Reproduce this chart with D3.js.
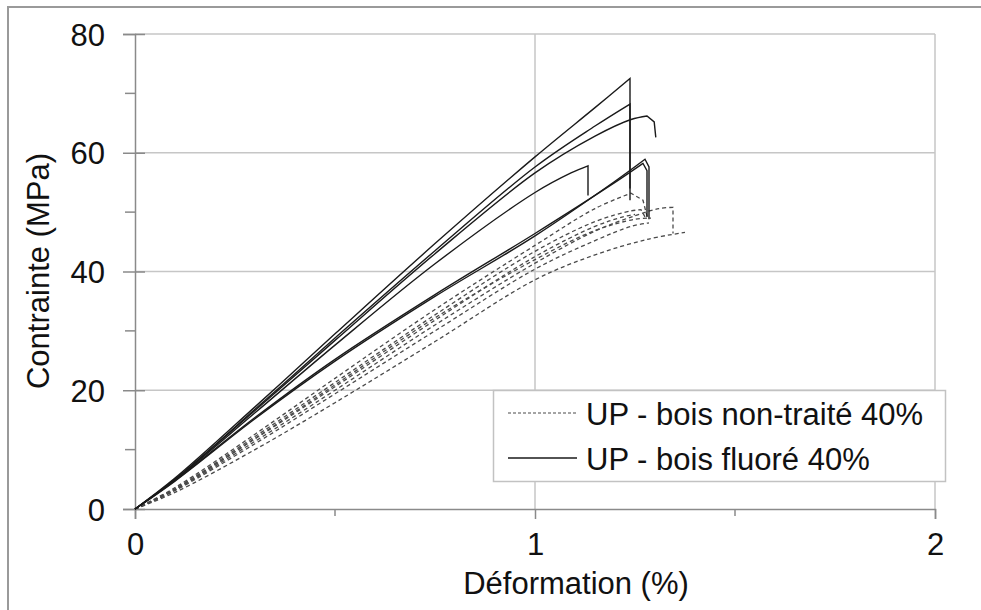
<!DOCTYPE html>
<html>
<head>
<meta charset="utf-8">
<script src="https://cdn.jsdelivr.net/npm/d3@7"></script>
<style>
  html, body { margin: 0; padding: 0; background: #fff; }
  svg { display: block; }
  text { font-family: "Liberation Sans", Arial, sans-serif; fill: #111; }
</style>
</head>
<body>
<svg id="chart" width="981" height="610"></svg>
<script>
// Tensile curves: [strain %, stress MPa]
// Fluorinated wood / UP composites (solid)
const fluore1 = [[0,0],[0.1,5.2],[0.3,17.2],[0.5,29.5],[0.75,44.7],[1.0,59.3],[1.15,67.6],[1.2375,72.5],[1.2375,52.0]];
const fluore2 = [[0,0],[0.1,5.0],[0.3,16.8],[0.5,28.8],[0.75,43.5],[1.0,57.6],[1.15,64.5],[1.2375,68.2],[1.2375,54.0]];
const fluore3 = [[0,0],[0.1,5.0],[0.3,16.6],[0.5,28.4],[0.75,43.0],[1.0,56.6],[1.15,62.8],[1.24,65.6],[1.28,66.2],[1.298,65.2],[1.302,62.6]];
const fluore4 = [[0,0],[0.1,4.9],[0.3,16.2],[0.5,27.6],[0.75,41.3],[1.0,53.3],[1.09,56.6],[1.1325,57.8],[1.1325,52.8]];
const fluore5 = [[0,0],[0.1,4.7],[0.3,15.2],[0.5,24.9],[0.75,35.8],[1.0,46.0],[1.2,55.2],[1.275,58.9],[1.285,57.6],[1.285,48.8]];
const fluore6 = [[0,0],[0.1,4.8],[0.3,15.4],[0.5,25.2],[0.75,36.1],[1.0,46.4],[1.2,55.0],[1.27,58.2],[1.28,57.0],[1.28,49.2]];

// Untreated wood / UP composites (dashed)
const brut1 = [[0,0],[0.1,3.6],[0.3,12.6],[0.5,22.0],[0.75,33.6],[1.0,44.4],[1.15,50.6],[1.24,53.2],[1.27,52.0],[1.28,49.3]];
const brut2 = [[0,0],[0.1,3.4],[0.3,12.2],[0.5,21.3],[0.75,32.7],[1.0,43.4],[1.15,48.4],[1.24,50.2],[1.265,50.4],[1.275,49.2]];
const brut3 = [[0,0],[0.1,3.3],[0.3,11.8],[0.5,20.6],[0.75,31.8],[1.0,42.5],[1.15,47.6],[1.22,49.2],[1.25,49.6]];
const brut4 = [[0,0],[0.1,3.2],[0.3,11.4],[0.5,20.0],[0.75,31.0],[1.0,41.4],[1.15,46.8],[1.25,49.4],[1.31,50.6],[1.345,50.8],[1.345,46.4]];
const brut5 = [[0,0],[0.1,3.1],[0.3,11.0],[0.5,19.4],[0.75,30.0],[1.0,40.4],[1.15,45.2],[1.24,47.6],[1.285,48.2]];
const brut6 = [[0,0],[0.1,2.8],[0.3,10.0],[0.5,17.9],[0.75,28.2],[1.0,38.6],[1.15,42.8],[1.28,45.4],[1.375,46.6]];
const brut7 = [[0,0],[0.1,3.3],[0.3,11.9],[0.5,20.9],[0.75,32.2],[1.0,42.0],[1.15,46.9],[1.25,48.8],[1.29,49.0]];

const fluoreCurves = [fluore1, fluore2, fluore3, fluore4, fluore5, fluore6];
const brutCurves = [brut1, brut2, brut3, brut4, brut5, brut6, brut7];

// Axes
const xTicks = [0, 1, 2];
const xMinorTicks = [0.5, 1.5];
const yTicks = [0, 20, 40, 60, 80];
const yMinorTicks = [10, 30, 50, 70];

const legendLabels = ["UP - bois non-traité 40%", "UP - bois fluoré 40%"];
const xTitle = "Déformation (%)";
const yTitle = "Contrainte (MPa)";

const svg = d3.select("#chart");

const x = d3.scaleLinear().domain([0, 2]).range([135, 935]);
const y = d3.scaleLinear().domain([0, 80]).range([509, 34]);

const gridColor = "#c6c6c6";
const axisColor = "#8a8a8a";

// Outer frame
svg.append("rect")
  .attr("x", 8).attr("y", 7).attr("width", 1000).attr("height", 700)
  .attr("fill", "none").attr("stroke", "#9a9a9a").attr("stroke-width", 2);

// Grid
svg.append("g").selectAll("line").data(yTicks.filter(d => d > 0)).join("line")
  .attr("x1", x(0)).attr("x2", x(2))
  .attr("y1", d => y(d)).attr("y2", d => y(d))
  .attr("stroke", gridColor).attr("stroke-width", 1.5);
svg.append("g").selectAll("line").data(xTicks.filter(d => d > 0)).join("line")
  .attr("x1", d => x(d)).attr("x2", d => x(d))
  .attr("y1", y(0)).attr("y2", y(80))
  .attr("stroke", gridColor).attr("stroke-width", 1.5);

// Y axis
const yAxis = d3.axisLeft(y).tickValues(yTicks).tickSize(12).tickPadding(18).tickFormat(d3.format("d"));
const gy = svg.append("g").attr("transform", `translate(${x(0)},0)`).call(yAxis);
gy.select(".domain").attr("stroke", axisColor).attr("stroke-width", 1.5);
gy.selectAll(".tick line").attr("stroke", axisColor).attr("stroke-width", 1.5).attr("x2", -12).attr("x1", 10);
gy.selectAll(".tick text").attr("font-size", 31).attr("font-family", "Liberation Sans, Arial, sans-serif").attr("fill", "#111").attr("dy", "0.36em");
svg.append("g").selectAll("line").data(yMinorTicks).join("line")
  .attr("x1", x(0) - 10).attr("x2", x(0))
  .attr("y1", d => y(d)).attr("y2", d => y(d))
  .attr("stroke", axisColor).attr("stroke-width", 1.5);

// X axis
const xAxis = d3.axisBottom(x).tickValues(xTicks).tickSize(10).tickPadding(14).tickFormat(d3.format("d"));
const gx = svg.append("g").attr("transform", `translate(0,${y(0)})`).call(xAxis);
gx.select(".domain").attr("stroke", axisColor).attr("stroke-width", 1.5);
gx.selectAll(".tick line").attr("stroke", axisColor).attr("stroke-width", 1.5);
gx.selectAll(".tick text").attr("font-size", 31).attr("font-family", "Liberation Sans, Arial, sans-serif").attr("fill", "#111").attr("dy", "0.72em");
svg.append("g").selectAll("line").data(xMinorTicks).join("line")
  .attr("x1", d => x(d)).attr("x2", d => x(d))
  .attr("y1", y(0)).attr("y2", y(0) + 7)
  .attr("stroke", axisColor).attr("stroke-width", 1.5);

// Curves: smooth loading branch up to the maximum stress, straight failure drop after it
const smooth = d3.line().x(d => x(d[0])).y(d => y(d[1])).curve(d3.curveCatmullRom.alpha(0.5));
const straight = d3.line().x(d => x(d[0])).y(d => y(d[1]));
function curvePath(pts) {
  const iMax = d3.maxIndex(pts, d => d[1]);
  const loading = pts.slice(0, iMax + 1);
  const tail = pts.slice(iMax);
  let p = smooth(loading);
  if (tail.length > 1) p += straight(tail).replace(/^M/, "L");
  return p;
}

svg.append("g").selectAll("path").data(brutCurves).join("path")
  .attr("d", curvePath)
  .attr("fill", "none")
  .attr("stroke", "#4a4a4a")
  .attr("stroke-width", 1.3)
  .attr("stroke-dasharray", "4,3");

svg.append("g").selectAll("path").data(fluoreCurves).join("path")
  .attr("d", curvePath)
  .attr("fill", "none")
  .attr("stroke", "#1a1a1a")
  .attr("stroke-width", 1.4);

// Legend
const legend = svg.append("g");
legend.append("rect")
  .attr("x", 493.5).attr("y", 390.5).attr("width", 452).attr("height", 91)
  .attr("fill", "#fff").attr("stroke", "#c2c2c2").attr("stroke-width", 1.5);
const legendStyles = [
  { dash: "3,2", color: "#4a4a4a", width: 1.2 },
  { dash: null, color: "#1a1a1a", width: 1.6 }
];
legendLabels.forEach((label, i) => {
  const cy = 413 + i * 45;
  legend.append("line")
    .attr("x1", 508).attr("x2", 577).attr("y1", cy).attr("y2", cy)
    .attr("stroke", legendStyles[i].color)
    .attr("stroke-width", legendStyles[i].width)
    .attr("stroke-dasharray", legendStyles[i].dash);
  legend.append("text")
    .attr("x", 586).attr("y", cy + 12)
    .attr("font-size", 31)
    .text(label);
});

// Axis titles
svg.append("text")
  .attr("x", 576).attr("y", 594)
  .attr("text-anchor", "middle")
  .attr("font-size", 31)
  .text(xTitle);

svg.append("text")
  .attr("transform", `translate(49,271) rotate(-90)`)
  .attr("text-anchor", "middle")
  .attr("font-size", 31)
  .text(yTitle);
</script>
</body>
</html>
